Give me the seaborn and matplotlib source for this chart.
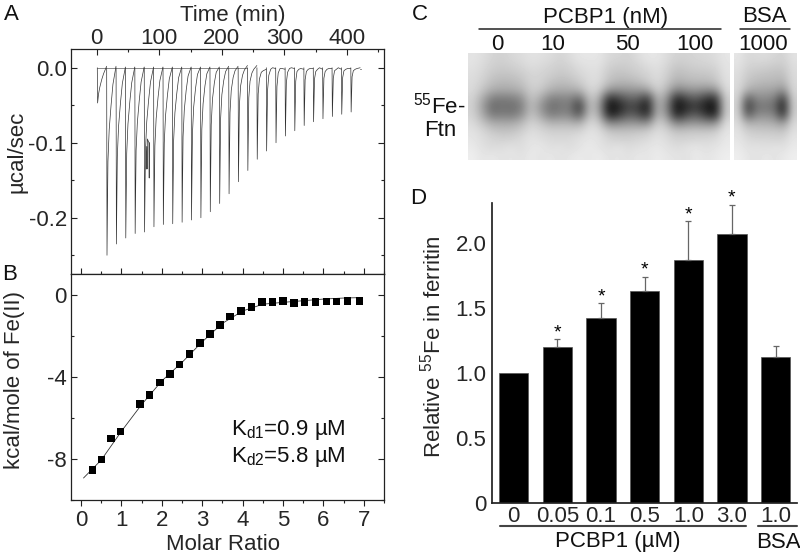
import numpy as np
import pandas as pd
import matplotlib
matplotlib.use('Agg')
import matplotlib.pyplot as plt
import seaborn as sns
from matplotlib.ticker import MultipleLocator

# Panel A - raw ITC trace, one row per injection
inj_time = [1, 16, 31, 46, 61, 76, 91, 106, 121, 136, 151, 166, 181, 196,
            211, 226, 241, 256, 271, 286, 301, 316, 331, 346, 361, 376, 391, 406]
trace_offset = [0, 0.5, 2, 4, 7, 10, 14.9]
trace_power = [
    [0, -0.047, -0.035, -0.026, -0.016, -0.008, 0.002],
    [0, -0.250, -0.125, -0.083, -0.050, -0.022, 0.002],
    [0, -0.235, -0.118, -0.078, -0.047, -0.021, 0.001],
    [0, -0.227, -0.114, -0.075, -0.045, -0.020, 0.001],
    [0, -0.221, -0.110, -0.073, -0.044, -0.019, 0.001],
    [0, -0.219, -0.109, -0.072, -0.043, -0.019, 0.001],
    [0, -0.212, -0.104, -0.068, -0.040, -0.017, 0.001],
    [0, -0.209, -0.100, -0.064, -0.037, -0.015, 0.001],
    [0, -0.208, -0.096, -0.060, -0.034, -0.013, 0.001],
    [0, -0.206, -0.092, -0.056, -0.030, -0.011, 0.001],
    [0, -0.203, -0.088, -0.052, -0.027, -0.009, 0.001],
    [0, -0.200, -0.082, -0.048, -0.024, -0.008, 0.001],
    [0, -0.192, -0.076, -0.042, -0.020, -0.006, 0.001],
    [0, -0.181, -0.068, -0.036, -0.017, -0.005, 0.002],
    [0, -0.168, -0.060, -0.030, -0.013, -0.004, 0.002],
    [0, -0.152, -0.050, -0.024, -0.010, -0.003, 0.003],
    [0, -0.137, -0.040, -0.018, -0.007, -0.002, 0.003],
    [0, -0.122, -0.035, -0.015, -0.006, -0.004, -0.002],
    [0, -0.111, -0.030, -0.010, -0.002, 0.000, -0.001],
    [0, -0.100, -0.025, -0.007, -0.001, -0.001, -0.002],
    [0, -0.091, -0.020, -0.006, -0.001, 0.000, -0.001],
    [0, -0.084, -0.018, -0.005, -0.002, -0.001, -0.002],
    [0, -0.077, -0.016, -0.005, -0.002, -0.001, -0.001],
    [0, -0.072, -0.015, -0.005, -0.002, 0.000, -0.002],
    [0, -0.068, -0.014, -0.005, -0.002, -0.001, -0.001],
    [0, -0.065, -0.014, -0.004, -0.002, 0.000, -0.002],
    [0, -0.062, -0.013, -0.004, -0.002, -0.001, -0.001],
    [0, -0.059, -0.012, -0.004, -0.002, -0.001, 0.000],
]
baseline_time = [1, 240]
baseline_power = [0, 0]
spike_time = [79, 80, 80.5, 81, 83.5, 84, 84.5]
spike_power = [-0.135, -0.105, -0.135, -0.095, -0.100, -0.147, -0.100]

# Panel B - integrated heats and fit
ratio = [0.28, 0.51, 0.74, 0.97, 1.46, 1.70, 1.95, 2.20, 2.44, 2.68, 2.94, 3.19, 3.44,
         3.69, 3.96, 4.22, 4.48, 4.74, 5.00, 5.27, 5.53, 5.80, 6.07, 6.33, 6.60, 6.89]
heat = [-8.55, -8.04, -7.00, -6.66, -5.32, -4.90, -4.27, -3.86, -3.41, -2.89, -2.37, -1.92, -1.48,
        -1.07, -0.80, -0.60, -0.37, -0.36, -0.31, -0.42, -0.37, -0.37, -0.34, -0.34, -0.31, -0.32]
fit_ratio = [0.06, 0.5, 1.0, 1.5, 2.0, 2.5, 3.0, 3.5, 4.0, 4.5, 5.0, 5.5, 6.0, 6.5, 6.9]
fit_heat = [-8.93, -8.05, -6.65, -5.35, -4.2, -3.3, -2.3, -1.4, -0.8, -0.47, -0.38, -0.3, -0.22, -0.17, -0.15]

# Panel C - gel, grey levels
gel_main = [
    [228, 222, 212, 208, 216, 220, 226, 224, 220, 212, 220, 230, 230, 230, 216, 214, 210, 220, 230, 230, 220, 210, 210, 214, 216, 220, 230],
    [226, 218, 208, 204, 208, 214, 222, 218, 212, 206, 212, 222, 226, 226, 210, 204, 206, 212, 220, 226, 214, 200, 204, 208, 210, 214, 228],
    [222, 214, 200, 196, 198, 204, 214, 212, 206, 200, 204, 214, 222, 222, 200, 194, 198, 204, 212, 222, 208, 188, 194, 198, 198, 204, 226],
    [220, 208, 190, 184, 186, 194, 212, 210, 196, 188, 192, 204, 220, 220, 192, 182, 182, 190, 202, 220, 200, 175, 182, 186, 186, 194, 224],
    [218, 196, 172, 168, 170, 178, 206, 200, 176, 170, 172, 178, 214, 208, 150, 145, 150, 152, 160, 210, 182, 130, 145, 150, 142, 145, 220],
    [212, 172, 128, 125, 128, 142, 198, 172, 130, 132, 136, 105, 198, 182, 45, 70, 100, 100, 55, 188, 152, 35, 75, 95, 60, 45, 210],
    [210, 160, 105, 115, 110, 125, 192, 150, 110, 120, 125, 50, 192, 165, 12, 30, 70, 62, 18, 182, 135, 12, 40, 60, 28, 12, 208],
    [212, 172, 122, 128, 122, 142, 198, 166, 125, 135, 135, 85, 198, 180, 30, 55, 95, 85, 40, 188, 150, 30, 75, 95, 55, 30, 210],
    [220, 196, 172, 170, 170, 184, 212, 198, 178, 182, 180, 172, 216, 206, 135, 140, 150, 148, 140, 210, 186, 130, 145, 150, 142, 140, 222],
    [226, 216, 200, 194, 196, 206, 222, 216, 208, 208, 208, 212, 226, 222, 198, 194, 194, 198, 204, 222, 212, 194, 198, 200, 198, 204, 228],
    [230, 220, 214, 210, 212, 218, 228, 222, 218, 216, 218, 224, 230, 226, 214, 210, 210, 214, 218, 228, 220, 210, 212, 214, 216, 218, 232],
    [234, 224, 218, 222, 226, 220, 230, 232, 222, 228, 220, 228, 234, 228, 222, 228, 220, 224, 228, 232, 226, 220, 226, 230, 224, 228, 234],
    [238, 228, 232, 226, 230, 224, 234, 226, 232, 224, 230, 234, 230, 236, 226, 230, 224, 232, 228, 236, 230, 228, 224, 234, 228, 232, 238],
]
gel_bsa = [
    [230, 216, 218, 220, 214, 210, 226],
    [226, 212, 210, 208, 204, 202, 222],
    [222, 204, 198, 196, 192, 192, 220],
    [220, 196, 188, 184, 184, 178, 218],
    [218, 175, 168, 164, 162, 142, 216],
    [214, 95, 138, 140, 130, 60, 210],
    [212, 55, 115, 120, 110, 22, 208],
    [214, 90, 138, 142, 132, 50, 210],
    [220, 175, 178, 176, 172, 150, 218],
    [226, 206, 202, 200, 200, 196, 224],
    [230, 218, 214, 216, 212, 214, 230],
    [234, 224, 228, 222, 228, 224, 234],
    [238, 230, 224, 232, 226, 232, 238],
]
gel_doses = ['0', '10', '50', '100', '1000']

# Panel D - bars
groups = ['0', '0.05', '0.1', '0.5', '1.0', '3.0', 'BSA 1.0']
dose_labels = ['0', '0.05', '0.1', '0.5', '1.0', '3.0', '1.0']
ferritin = [1.0, 1.20, 1.42, 1.63, 1.87, 2.07, 1.12]
ferritin_err = [0, 0.06, 0.115, 0.11, 0.295, 0.22, 0.09]
significant = [False, True, True, True, True, True, False]

FONT = 'Liberation Sans'
FS = 16
sns.set_theme(style='ticks')
plt.rcParams['font.family'] = [FONT, 'DejaVu Sans']
plt.rcParams['mathtext.fontset'] = 'custom'
plt.rcParams['mathtext.rm'] = FONT
plt.rcParams['mathtext.default'] = 'regular'
plt.rcParams['text.color'] = '#111111'

W, H = 800, 556
fig = plt.figure(figsize=(W / 100, H / 100), dpi=100)


def px_axes(left, top, right, bottom):
    return fig.add_axes([left / W, 1 - bottom / H, (right - left) / W, (bottom - top) / H])


def px_text(x, y, s, **kw):
    kw.setdefault('ha', 'center')
    kw.setdefault('va', 'center')
    kw.setdefault('fontsize', FS)
    fig.text(x / W, 1 - y / H, s, **kw)


def px_line(x0, x1, y, lw=1.0, color='#222222'):
    fig.add_artist(plt.Line2D([x0 / W, x1 / W], [1 - y / H, 1 - y / H], color=color, lw=lw))


def label_at(axis, x, y):
    axis.set_label_coords(x / W, 1 - y / H, transform=fig.transFigure)
    axis.label.set_ha('center')
    axis.label.set_va('center')


def style_box(ax):
    for s in ax.spines.values():
        s.set_linewidth(0.9)
        s.set_color('#222222')


# A
ax_a = px_axes(71, 49, 384, 274)
sns.lineplot(x=baseline_time, y=baseline_power, ax=ax_a, color='#777777', lw=0.6, errorbar=None)
for t0, row in zip(inj_time, trace_power):
    times = [t0 + o for o in trace_offset]
    ax_a.plot(times, row, color='#333333', lw=0.5)
ax_a.plot([421, 422], [-0.001, -0.001], color='#333333', lw=0.5)
ax_a.plot(spike_time, spike_power, color='#444444', lw=0.6)
ax_a.set_xlim(-41, 459)
ax_a.set_ylim(-0.275, 0.025)
ax_a.xaxis.tick_top()
ax_a.xaxis.set_label_position('top')
ax_a.xaxis.set_major_locator(MultipleLocator(100))
ax_a.xaxis.set_minor_locator(MultipleLocator(50))
ax_a.yaxis.set_minor_locator(MultipleLocator(0.05))
ax_a.set_yticks([0.0, -0.1, -0.2])
ax_a.set_yticklabels(['0.0', '-0.1', '-0.2'])
ax_a.tick_params(which='major', direction='in', length=4, width=0.8, labelsize=FS, pad=3, right=True, color='#222222')
ax_a.tick_params(axis='x', which='major', pad=0)
ax_a.tick_params(which='minor', direction='in', length=2.5, width=0.8, right=True, color='#222222')
ax_a.set_xlabel('Time (min)', fontsize=FS)
ax_a.set_ylabel('µcal/sec', fontsize=FS)
label_at(ax_a.xaxis, 233, 15)
label_at(ax_a.yaxis, 17, 152)
style_box(ax_a)

# B
ax_b = px_axes(71, 274, 384, 500)
sns.lineplot(x=fit_ratio, y=fit_heat, ax=ax_b, color='#333333', lw=0.6, errorbar=None)
sns.scatterplot(x=ratio, y=heat, ax=ax_b, marker='s', color='black', s=29, edgecolor='none', zorder=3)
ax_b.set_xlim(-0.25, 7.5)
ax_b.set_ylim(-10, 1)
ax_b.xaxis.set_major_locator(MultipleLocator(1))
ax_b.xaxis.set_minor_locator(MultipleLocator(0.5))
ax_b.set_yticks([0, -4, -8])
ax_b.set_yticklabels(['0', '-4', '-8'])
ax_b.yaxis.set_minor_locator(MultipleLocator(2))
ax_b.tick_params(which='major', direction='in', length=4, width=0.8, labelsize=FS, pad=3, right=True, top=True, color='#222222')
ax_b.tick_params(which='minor', direction='in', length=2.5, width=0.8, right=True, top=True, color='#222222')
ax_b.tick_params(axis='x', which='both', direction='out', bottom=True)
ax_b.set_xlabel('Molar Ratio', fontsize=FS)
ax_b.set_ylabel('kcal/mole of Fe(II)', fontsize=FS)
label_at(ax_b.xaxis, 223, 544)
label_at(ax_b.yaxis, 15, 380)
style_box(ax_b)
px_text(231, 430, 'K$_{d1}$=0.9 µM', ha='left')
px_text(231, 457, 'K$_{d2}$=5.8 µM', ha='left')

# C
ax_c = px_axes(468, 53, 730, 160)
ax_c.imshow(gel_main, cmap='gray', vmin=0, vmax=255, aspect='auto', interpolation='bicubic')
ax_c.axis('off')
ax_c2 = px_axes(734, 53, 797, 160)
ax_c2.imshow(gel_bsa, cmap='gray', vmin=0, vmax=255, aspect='auto', interpolation='bicubic')
ax_c2.axis('off')

px_text(606, 17, 'PCBP1 (nM)')
px_text(764, 17, 'BSA')
px_line(479, 721, 29, lw=1.1)
px_line(740, 790, 29, lw=1.1)
for x, lab in zip([497, 553, 627, 695, 763], gel_doses):
    px_text(x, 45, lab)
px_text(439, 106, '$^{55}$Fe-')
px_text(440, 130, 'Ftn')

# D
ax_d = px_axes(492, 203, 797, 503)
bar_df = pd.DataFrame({'group': groups, 'value': ferritin})
sns.barplot(data=bar_df, x='group', y='value', ax=ax_d, color='black', width=0.67,
            saturation=1, edgecolor='#555555', linewidth=0.5, errorbar=None)
positions = np.arange(len(groups))
err_pos = [p for p, e in zip(positions, ferritin_err) if e > 0]
err_val = [v for v, e in zip(ferritin, ferritin_err) if e > 0]
err_up = [e for e in ferritin_err if e > 0]
ax_d.errorbar(err_pos, err_val, yerr=[[0] * len(err_up), err_up], fmt='none', ecolor='#666666',
              elinewidth=0.9, capsize=2, capthick=0.9, zorder=1)
for p, v, e, sig in zip(positions, ferritin, ferritin_err, significant):
    if sig:
        ax_d.text(p, v + e + 0.05, '*', ha='center', va='center', fontsize=14, color='black')
ax_d.set_xlim(-0.497, 6.49)
ax_d.set_ylim(0, 2.305)
ax_d.set_xticks(positions)
ax_d.set_xticklabels(dose_labels)
ax_d.set_yticks([0, 0.5, 1.0, 1.5, 2.0])
ax_d.set_yticklabels(['0', '0.5', '1.0', '1.5', '2.0'])
ax_d.tick_params(axis='y', length=0, labelsize=FS, pad=4)
ax_d.tick_params(axis='x', length=0, labelsize=FS, pad=2.5)
ax_d.set_xlabel('')
ax_d.set_ylabel('Relative $^{55}$Fe in ferritin', fontsize=FS)
label_at(ax_d.yaxis, 433, 347)
sns.despine(ax=ax_d)
ax_d.spines['left'].set_color('#222222')
ax_d.spines['bottom'].set_color('#222222')
px_line(500, 746, 526, lw=1.5, color='#444444')
px_line(758, 797, 526, lw=1.5, color='#444444')
px_text(618, 542, 'PCBP1 (µM)')
px_text(778, 542, 'BSA')

# panel letters
px_text(11, 15, 'A')
px_text(10, 274, 'B')
px_text(420, 14, 'C')
px_text(418, 198, 'D')

fig.savefig('out.png', dpi=100)
